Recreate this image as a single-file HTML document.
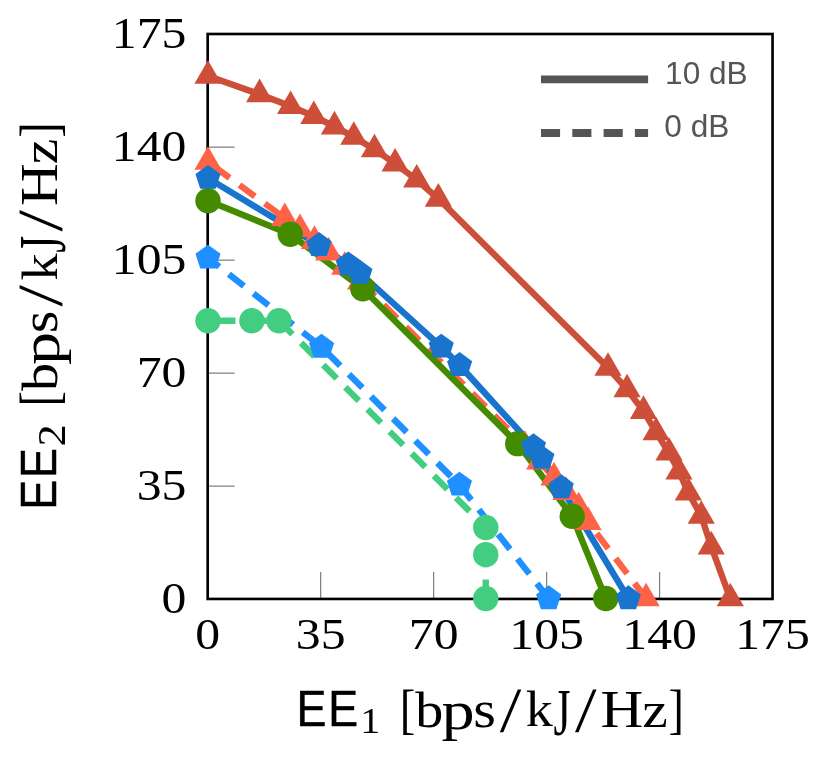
<!DOCTYPE html>
<html><head><meta charset="utf-8"><title>EE region</title>
<style>html,body{margin:0;padding:0;background:#fff;}body{width:830px;height:760px;overflow:hidden;font-family:"Liberation Sans",sans-serif;}svg{display:block;}text{white-space:pre;}</style></head><body>
<svg style="will-change:transform" width="830" height="760" viewBox="0 0 830 760">
<rect x="0" y="0" width="830" height="760" fill="#ffffff"/>
<defs><clipPath id="cp"><rect x="207.68" y="34.00" width="564.87" height="564.95"/></clipPath></defs>
<g stroke="#808080" stroke-width="1.25" fill="none">
<line x1="320.65" y1="598.95" x2="320.65" y2="572.05"/>
<line x1="207.68" y1="486.13" x2="234.58" y2="486.13"/>
<line x1="433.63" y1="598.95" x2="433.63" y2="572.05"/>
<line x1="207.68" y1="373.14" x2="234.58" y2="373.14"/>
<line x1="546.60" y1="598.95" x2="546.60" y2="572.05"/>
<line x1="207.68" y1="260.15" x2="234.58" y2="260.15"/>
<line x1="659.58" y1="598.95" x2="659.58" y2="572.05"/>
<line x1="207.68" y1="147.16" x2="234.58" y2="147.16"/>
</g>
<rect x="207.68" y="34.00" width="564.87" height="564.95" fill="none" stroke="#000" stroke-width="2.65"/>
<g clip-path="url(#cp)" fill="none" stroke-width="6.40" stroke-linejoin="round" stroke-linecap="butt">
<path d="M730.29 598.50 L711.26 546.56 L701.26 515.91 L688.35 492.69 L679.00 471.72 L669.00 452.68 L656.09 432.36 L643.51 411.07 L627.06 389.46 L608.02 367.84 L438.34 198.80 L416.72 179.77 L395.11 163.64 L374.46 149.44 L353.82 136.86 L334.46 126.54 L313.81 116.21 L290.59 106.21 L259.62 94.28 L208.00 75.89" stroke="#CD4F39"/>
<path d="M646.09 598.50 L588.02 522.04 L578.67 507.53 L566.09 492.04 L553.99 477.52 L539.63 461.72 L524.79 445.91 L360.59 281.71 L344.78 266.87 L328.65 252.67 L314.46 241.06 L299.94 229.12 L284.78 218.15 L208.00 162.02" stroke="#FF6347" stroke-dasharray="19.1 12.2"/>
<path d="M605.77 598.50 L572.22 516.24 L517.70 443.65 L362.85 288.80 L290.26 234.28 L208.00 200.73" stroke="#458B00"/>
<path d="M485.76 598.50 L485.76 554.63 L485.76 527.53 L278.97 320.74 L251.87 320.74 L208.00 320.74" stroke="#43CD80" stroke-dasharray="19.1 12.2"/>
<path d="M628.35 598.50 L561.25 487.53 L541.89 458.17 L533.50 446.56 L459.63 365.26 L441.24 346.87 L359.94 273.00 L348.33 264.61 L318.97 245.25 L208.00 178.15" stroke="#1874CD"/>
<path d="M548.67 598.50 L459.47 484.94 L321.56 347.03 L208.00 257.83" stroke="#1E90FF" stroke-dasharray="19.1 12.2"/>
</g>
<g stroke="none">
<polygon points="208.00,60.19 194.40,83.74 221.60,83.74" fill="#CD4F39"/>
<polygon points="259.62,78.58 246.02,102.13 273.21,102.13" fill="#CD4F39"/>
<polygon points="290.59,90.51 276.99,114.06 304.18,114.06" fill="#CD4F39"/>
<polygon points="313.81,100.51 300.22,124.06 327.41,124.06" fill="#CD4F39"/>
<polygon points="334.46,110.84 320.86,134.39 348.06,134.39" fill="#CD4F39"/>
<polygon points="353.82,121.16 340.22,144.71 367.41,144.71" fill="#CD4F39"/>
<polygon points="374.46,133.74 360.87,157.29 388.06,157.29" fill="#CD4F39"/>
<polygon points="395.11,147.94 381.51,171.49 408.70,171.49" fill="#CD4F39"/>
<polygon points="416.72,164.07 403.13,187.62 430.32,187.62" fill="#CD4F39"/>
<polygon points="438.34,183.10 424.74,206.65 451.93,206.65" fill="#CD4F39"/>
<polygon points="608.02,352.14 594.43,375.69 621.62,375.69" fill="#CD4F39"/>
<polygon points="627.06,373.76 613.46,397.31 640.65,397.31" fill="#CD4F39"/>
<polygon points="643.51,395.37 629.91,418.92 657.11,418.92" fill="#CD4F39"/>
<polygon points="656.09,416.66 642.49,440.21 669.69,440.21" fill="#CD4F39"/>
<polygon points="669.00,436.98 655.40,460.53 682.59,460.53" fill="#CD4F39"/>
<polygon points="679.00,456.02 665.40,479.57 692.59,479.57" fill="#CD4F39"/>
<polygon points="688.35,476.99 674.75,500.54 701.95,500.54" fill="#CD4F39"/>
<polygon points="701.26,500.21 687.66,523.76 714.85,523.76" fill="#CD4F39"/>
<polygon points="711.26,530.86 697.66,554.41 724.85,554.41" fill="#CD4F39"/>
<polygon points="730.29,582.80 716.69,606.35 743.89,606.35" fill="#CD4F39"/>
<polygon points="208.00,146.32 194.40,169.87 221.60,169.87" fill="#FF6347"/>
<polygon points="284.78,202.45 271.18,226.00 298.38,226.00" fill="#FF6347"/>
<polygon points="299.94,213.42 286.34,236.97 313.54,236.97" fill="#FF6347"/>
<polygon points="314.46,225.36 300.86,248.91 328.05,248.91" fill="#FF6347"/>
<polygon points="328.65,236.97 315.06,260.52 342.25,260.52" fill="#FF6347"/>
<polygon points="344.78,251.17 331.19,274.72 358.38,274.72" fill="#FF6347"/>
<polygon points="360.59,266.01 346.99,289.56 374.19,289.56" fill="#FF6347"/>
<polygon points="524.79,430.21 511.20,453.76 538.39,453.76" fill="#FF6347"/>
<polygon points="539.63,446.02 526.04,469.57 553.23,469.57" fill="#FF6347"/>
<polygon points="553.99,461.82 540.39,485.38 567.59,485.38" fill="#FF6347"/>
<polygon points="566.09,476.34 552.49,499.89 579.68,499.89" fill="#FF6347"/>
<polygon points="578.67,491.83 565.07,515.38 592.26,515.38" fill="#FF6347"/>
<polygon points="588.02,506.34 574.43,529.89 601.62,529.89" fill="#FF6347"/>
<polygon points="646.09,582.80 632.49,606.35 659.69,606.35" fill="#FF6347"/>
<circle cx="208.00" cy="200.73" r="12.70" fill="#458B00"/>
<circle cx="290.26" cy="234.28" r="12.70" fill="#458B00"/>
<circle cx="362.85" cy="288.80" r="12.70" fill="#458B00"/>
<circle cx="517.70" cy="443.65" r="12.70" fill="#458B00"/>
<circle cx="572.22" cy="516.24" r="12.70" fill="#458B00"/>
<circle cx="605.77" cy="598.50" r="12.70" fill="#458B00"/>
<circle cx="208.00" cy="320.74" r="12.70" fill="#43CD80"/>
<circle cx="251.87" cy="320.74" r="12.70" fill="#43CD80"/>
<circle cx="278.97" cy="320.74" r="12.70" fill="#43CD80"/>
<circle cx="485.76" cy="527.53" r="12.70" fill="#43CD80"/>
<circle cx="485.76" cy="554.63" r="12.70" fill="#43CD80"/>
<circle cx="485.76" cy="598.50" r="12.70" fill="#43CD80"/>
<polygon points="208.00,164.95 195.45,174.07 200.24,188.83 215.76,188.83 220.55,174.07" fill="#1874CD"/>
<polygon points="318.97,232.05 306.42,241.17 311.22,255.93 326.73,255.93 331.53,241.17" fill="#1874CD"/>
<polygon points="348.33,251.41 335.78,260.53 340.57,275.29 356.09,275.29 360.88,260.53" fill="#1874CD"/>
<polygon points="359.94,259.80 347.39,268.92 352.19,283.68 367.70,283.68 372.50,268.92" fill="#1874CD"/>
<polygon points="441.24,333.67 428.69,342.79 433.48,357.55 449.00,357.55 453.79,342.79" fill="#1874CD"/>
<polygon points="459.63,352.06 447.07,361.18 451.87,375.94 467.39,375.94 472.18,361.18" fill="#1874CD"/>
<polygon points="533.50,433.36 520.95,442.48 525.74,457.23 541.26,457.23 546.06,442.48" fill="#1874CD"/>
<polygon points="541.89,444.97 529.34,454.09 534.13,468.85 549.65,468.85 554.44,454.09" fill="#1874CD"/>
<polygon points="561.25,474.33 548.69,483.45 553.49,498.20 569.01,498.20 573.80,483.45" fill="#1874CD"/>
<polygon points="628.35,585.30 615.79,594.42 620.59,609.18 636.11,609.18 640.90,594.42" fill="#1874CD"/>
<polygon points="208.00,244.63 195.45,253.76 200.24,268.51 215.76,268.51 220.55,253.76" fill="#1E90FF"/>
<polygon points="321.56,333.83 309.00,342.95 313.80,357.71 329.31,357.71 334.11,342.95" fill="#1E90FF"/>
<polygon points="459.47,471.74 446.91,480.87 451.71,495.62 467.23,495.62 472.02,480.87" fill="#1E90FF"/>
<polygon points="548.67,585.30 536.11,594.42 540.91,609.18 556.42,609.18 561.22,594.42" fill="#1E90FF"/>
</g>
<g font-family="'Liberation Serif', serif" font-size="44.0" fill="#000">
<text transform="translate(207.68,648.90) scale(1.130,1)" text-anchor="middle">0</text>
<text transform="translate(186.40,612.90) scale(1.130,1)" text-anchor="end">0</text>
<text transform="translate(320.65,648.90) scale(1.130,1)" text-anchor="middle">35</text>
<text transform="translate(186.40,499.91) scale(1.130,1)" text-anchor="end">35</text>
<text transform="translate(433.63,648.90) scale(1.130,1)" text-anchor="middle">70</text>
<text transform="translate(186.40,386.92) scale(1.130,1)" text-anchor="end">70</text>
<text transform="translate(546.60,648.90) scale(1.130,1)" text-anchor="middle">105</text>
<text transform="translate(186.40,273.93) scale(1.130,1)" text-anchor="end">105</text>
<text transform="translate(659.58,648.90) scale(1.130,1)" text-anchor="middle">140</text>
<text transform="translate(186.40,160.94) scale(1.130,1)" text-anchor="end">140</text>
<text transform="translate(772.55,648.90) scale(1.130,1)" text-anchor="middle">175</text>
<text transform="translate(186.40,47.95) scale(1.130,1)" text-anchor="end">175</text>
</g>
<g id="xlabel"><text font-family="'Liberation Sans', sans-serif" font-size="100" fill="#000" stroke="#000" stroke-width="1.00" transform="matrix(0.4483 0 0 0.4942 296.62 726.10)">E</text>
<text font-family="'Liberation Sans', sans-serif" font-size="100" fill="#000" stroke="#000" stroke-width="1.00" transform="matrix(0.4474 0 0 0.4942 328.28 726.10)">E</text>
<text font-family="'Liberation Serif', serif" font-size="100" fill="#000" transform="matrix(0.4019 0 0 0.3651 360.37 732.70)">1</text>
<text font-family="'Liberation Serif', serif" font-size="100" fill="#000" transform="matrix(0.4671 0 0 0.5516 399.83 728.12)">[</text>
<text font-family="'Liberation Serif', serif" font-size="100" fill="#000" transform="matrix(0.5607 0 0 0.5109 415.30 726.70)">b</text>
<text font-family="'Liberation Serif', serif" font-size="100" fill="#000" transform="matrix(0.6632 0 0 0.5540 441.43 728.91)">p</text>
<text font-family="'Liberation Serif', serif" font-size="100" fill="#000" transform="matrix(0.5833 0 0 0.5344 473.21 726.98)">s</text>
<polygon fill="#000" points="499.80,732.20 503.30,732.20 521.30,689.40 517.80,689.40"/>
<text font-family="'Liberation Serif', serif" font-size="100" fill="#000" transform="matrix(0.5406 0 0 0.5059 525.87 726.40)">k</text>
<text font-family="'Liberation Serif', serif" font-size="100" fill="#000" transform="matrix(0.4378 0 0 0.6741 553.58 735.14)">J</text>
<polygon fill="#000" points="575.00,732.20 578.50,732.20 596.50,689.40 593.00,689.40"/>
<text font-family="'Liberation Serif', serif" font-size="100" fill="#000" transform="matrix(0.5918 0 0 0.5177 600.50 726.50)">H</text>
<text font-family="'Liberation Serif', serif" font-size="100" fill="#000" transform="matrix(0.5756 0 0 0.5011 642.25 726.50)">z</text>
<text font-family="'Liberation Serif', serif" font-size="100" fill="#000" transform="matrix(0.4626 0 0 0.5473 668.53 728.18)">]</text></g>
<g id="ylabel" transform="translate(-669.8,806.4) rotate(-90)"><text font-family="'Liberation Sans', sans-serif" font-size="100" fill="#000" stroke="#000" stroke-width="1.00" transform="matrix(0.4483 0 0 0.4942 296.62 726.10)">E</text>
<text font-family="'Liberation Sans', sans-serif" font-size="100" fill="#000" stroke="#000" stroke-width="1.00" transform="matrix(0.4474 0 0 0.4942 328.28 726.10)">E</text>
<text font-family="'Liberation Serif', serif" font-size="100" fill="#000" transform="matrix(0.4440 0 0 0.3987 359.95 734.30)">2</text>
<text font-family="'Liberation Serif', serif" font-size="100" fill="#000" transform="matrix(0.4671 0 0 0.5516 399.83 728.12)">[</text>
<text font-family="'Liberation Serif', serif" font-size="100" fill="#000" transform="matrix(0.5607 0 0 0.5109 415.30 726.70)">b</text>
<text font-family="'Liberation Serif', serif" font-size="100" fill="#000" transform="matrix(0.6632 0 0 0.5540 441.43 728.91)">p</text>
<text font-family="'Liberation Serif', serif" font-size="100" fill="#000" transform="matrix(0.5833 0 0 0.5344 473.21 726.98)">s</text>
<polygon fill="#000" points="499.80,732.20 503.30,732.20 521.30,689.40 517.80,689.40"/>
<text font-family="'Liberation Serif', serif" font-size="100" fill="#000" transform="matrix(0.5406 0 0 0.5059 525.87 726.40)">k</text>
<text font-family="'Liberation Serif', serif" font-size="100" fill="#000" transform="matrix(0.4378 0 0 0.6741 553.58 735.14)">J</text>
<polygon fill="#000" points="575.00,732.20 578.50,732.20 596.50,689.40 593.00,689.40"/>
<text font-family="'Liberation Serif', serif" font-size="100" fill="#000" transform="matrix(0.5918 0 0 0.5177 600.50 726.50)">H</text>
<text font-family="'Liberation Serif', serif" font-size="100" fill="#000" transform="matrix(0.5756 0 0 0.5011 642.25 726.50)">z</text>
<text font-family="'Liberation Serif', serif" font-size="100" fill="#000" transform="matrix(0.4626 0 0 0.5473 668.53 728.18)">]</text></g>
<g stroke="#555555" stroke-width="7.8" fill="none">
<line x1="541" y1="79.3" x2="648.1" y2="79.3"/>
<line x1="541" y1="133.0" x2="648.1" y2="133.0" stroke-dasharray="19.1 12.2"/>
</g>
<g font-family="'Liberation Sans', sans-serif" font-size="31.6" fill="#555555">
<text x="665.1" y="83.55">10 dB</text>
<text x="664.3" y="137.2">0 dB</text>
</g>
</svg></body></html>
